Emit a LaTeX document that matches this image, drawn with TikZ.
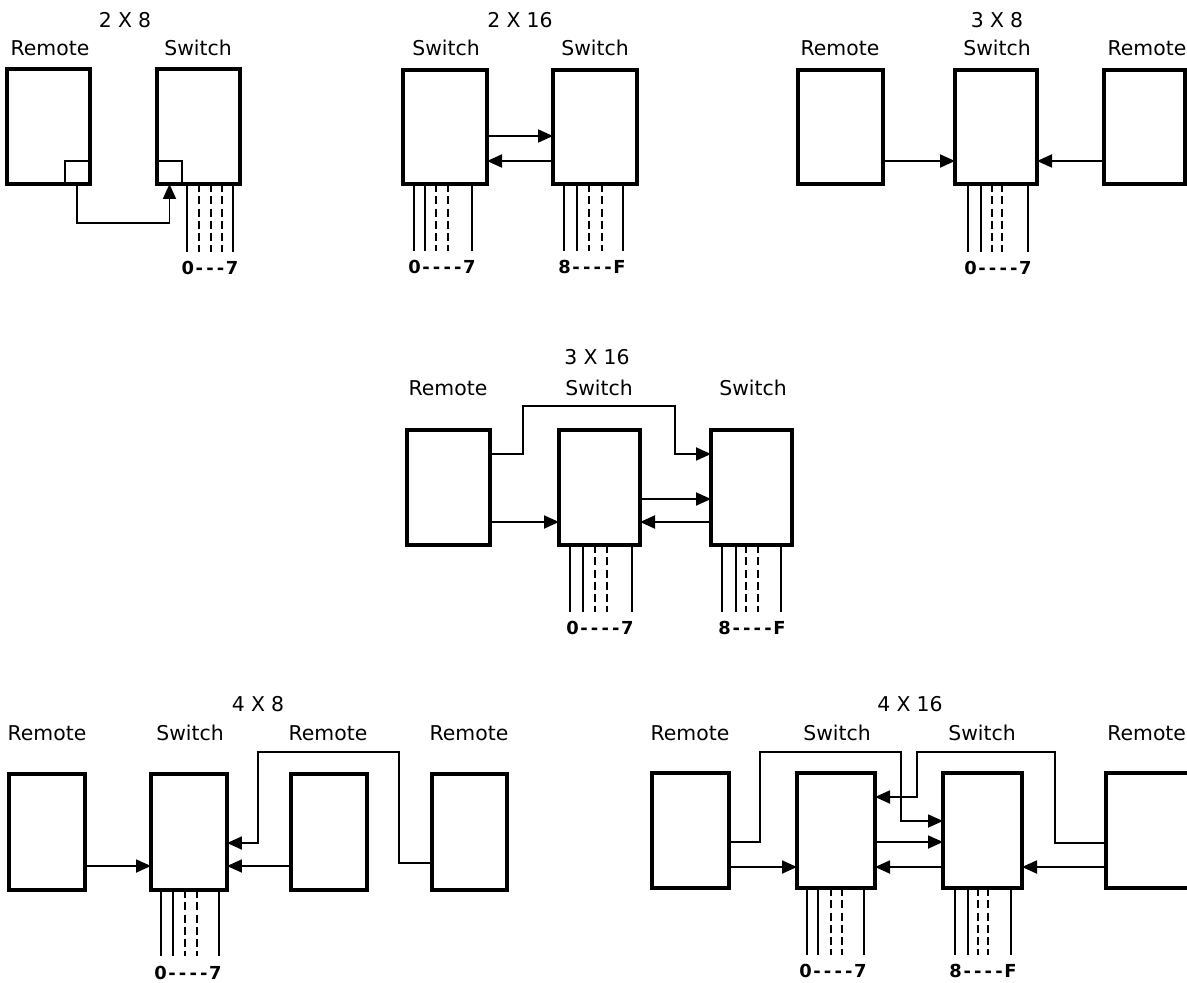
\documentclass[tikz,border=0pt]{standalone}
\usepackage{fontspec}
\setmainfont{DejaVu Sans}
\usetikzlibrary{arrows.meta}
\tikzset{
 box/.style={draw, line width=1.9pt, inner sep=0pt, outer sep=0pt},
 sqbox/.style={draw, line width=1.3pt, inner sep=0pt, outer sep=0pt},
 conn/.style={line width=1.05pt},
 arr/.style={conn, -{Triangle[length=3mm,width=2.6mm]}},
 port/.style={line width=0.95pt},
 dport/.style={port, dash pattern=on 4.5pt off 2.5pt},
 lbl/.style={font=\fontsize{11.6}{13}\selectfont, inner sep=0pt},
 num/.style={font=\fontsize{10.2}{12}\selectfont\bfseries, inner sep=0pt},
}
\newcommand{\bx}[6][box]{\node[#1, minimum width={(#5-#3)*0.02cm}, minimum height={(#6-#4)*0.02cm}] (#2) at ({(#3+#5)/2},{(#4+#6)/2}) {};}
\newcommand{\ports}[7]{%
 \draw[port] (#1.south -| #2,0) -- (#2,#7);
 \draw[port] (#1.south -| #3,0) -- (#3,#7);
 \draw[dport] (#1.south -| #4,0) -- (#4,#7);
 \draw[dport] (#1.south -| #5,0) -- (#5,#7);
 \draw[port] (#1.south -| #6,0) -- (#6,#7);}
\newcommand{\dsh}{\kern0.9pt-\kern0.9pt}
\newcommand{\ttl}[2]{#1\kern3.5pt X\kern3.5pt #2}
\begin{document}
\begin{tikzpicture}[x=0.02cm,y=-0.02cm]
\useasboundingbox (0,0) rectangle (1187,983);
\fill[white] (0,0) rectangle (1187,983);
\clip (0,0) rectangle (1187,983);

% ---------- 2 X 8 ----------
\node[lbl] (t1) at (125,20) {\ttl{2}{8}};
\node[lbl] (l1a) at (50,48) {Remote};
\node[lbl] (l1b) at (198,48) {Switch};
\bx{r1}{7}{69}{90}{184}
\bx{s1}{157}{69}{240}{184}
\bx[sqbox]{q1}{65}{161}{89}{184}
\bx[sqbox]{q2}{157}{161}{182}{184}
\draw[arr] (q1.south) -- (q1.south |- 0,223) -| (q2.south);
\draw[port] (s1.south -| 187,0) -- (187,252);
\draw[dport] (s1.south -| 199,0) -- (199,252);
\draw[dport] (s1.south -| 211,0) -- (211,252);
\draw[dport] (s1.south -| 222,0) -- (222,252);
\draw[port] (s1.south -| 233,0) -- (233,252);
\node[num] (n1) at (210,268) {0\dsh\dsh\dsh7};

% ---------- 2 X 16 ----------
\node[lbl] (t2) at (520,20) {\ttl{2}{16}};
\node[lbl] (l2a) at (446,48) {Switch};
\node[lbl] (l2b) at (595,48) {Switch};
\bx{s2a}{403}{70}{487}{184}
\bx{s2b}{553}{70}{637}{184}
\draw[arr] (s2a.east |- 0,136) -- (s2b.west |- 0,136);
\draw[arr] (s2b.west |- 0,161) -- (s2a.east |- 0,161);
\ports{s2a}{414}{425}{436}{448}{472}{251}
\ports{s2b}{564}{577}{589}{602}{623}{251}
\node[num] (n2a) at (442,267) {0\dsh\dsh\dsh\dsh7};
\node[num] (n2b) at (592,267) {8\dsh\dsh\dsh\dsh F};

% ---------- 3 X 8 ----------
\node[lbl] (t3) at (997,20) {\ttl{3}{8}};
\node[lbl] (l3a) at (840,48) {Remote};
\node[lbl] (l3b) at (997,48) {Switch};
\node[lbl] (l3c) at (1147,48) {Remote};
\bx{r3a}{798}{70}{883}{184}
\bx{s3}{955}{70}{1037}{184}
\bx{r3b}{1104}{70}{1185}{184}
\draw[arr] (r3a.east |- 0,161) -- (s3.west |- 0,161);
\draw[arr] (r3b.west |- 0,161) -- (s3.east |- 0,161);
\ports{s3}{968}{981}{992}{1002}{1028}{252}
\node[num] (n3) at (998,268) {0\dsh\dsh\dsh\dsh7};

% ---------- 3 X 16 ----------
\node[lbl] (t4) at (597,357) {\ttl{3}{16}};
\node[lbl] (l4a) at (448,388) {Remote};
\node[lbl] (l4b) at (599,388) {Switch};
\node[lbl] (l4c) at (753,388) {Switch};
\bx{r4}{407}{430}{490}{545}
\bx{s4a}{559}{430}{640}{545}
\bx{s4b}{711}{430}{792}{545}
\draw[arr] (r4.east |- 0,454) -- (523,454) |- (675,406) |- (s4b.west |- 0,454);
\draw[arr] (r4.east |- 0,522) -- (s4a.west |- 0,522);
\draw[arr] (s4a.east |- 0,499) -- (s4b.west |- 0,499);
\draw[arr] (s4b.west |- 0,522) -- (s4a.east |- 0,522);
\ports{s4a}{570}{583}{595}{607}{632}{612}
\ports{s4b}{722}{736}{746}{758}{781}{612}
\node[num] (n4a) at (600,628) {0\dsh\dsh\dsh\dsh7};
\node[num] (n4b) at (752,628) {8\dsh\dsh\dsh\dsh F};

% ---------- 4 X 8 ----------
\node[lbl] (t5) at (258,704) {\ttl{4}{8}};
\node[lbl] (l5a) at (47,733) {Remote};
\node[lbl] (l5b) at (190,733) {Switch};
\node[lbl] (l5c) at (328,733) {Remote};
\node[lbl] (l5d) at (469,733) {Remote};
\bx{r5a}{9}{774}{85}{890}
\bx{s5}{151}{774}{227}{890}
\bx{r5b}{291}{774}{367}{890}
\bx{r5c}{432}{774}{507}{890}
\draw[arr] (r5a.east |- 0,866) -- (s5.west |- 0,866);
\draw[arr] (r5b.west |- 0,866) -- (s5.east |- 0,866);
\draw[arr] (r5c.west |- 0,863) -- (399,863) |- (258,752) |- (s5.east |- 0,843);
\ports{s5}{161}{173}{185}{197}{219}{956}
\node[num] (n5) at (188,973) {0\dsh\dsh\dsh\dsh7};

% ---------- 4 X 16 ----------
\node[lbl] (t6) at (910,704) {\ttl{4}{16}};
\node[lbl] (l6a) at (690,733) {Remote};
\node[lbl] (l6b) at (837,733) {Switch};
\node[lbl] (l6c) at (982,733) {Switch};
\node[lbl, anchor=west] (l6d) at (1107,733) {Remote};
\bx{r6a}{652}{773}{729}{888}
\bx{s6a}{797}{773}{875}{888}
\bx{s6b}{943}{773}{1022}{888}
\bx{r6b}{1106}{773}{1200}{888}
\draw[arr] (r6a.east |- 0,842) -- (760,842) |- (901,752) |- (s6b.west |- 0,821);
\draw[arr] (r6a.east |- 0,867) -- (s6a.west |- 0,867);
\draw[arr] (s6a.east |- 0,842) -- (s6b.west |- 0,842);
\draw[arr] (s6b.west |- 0,867) -- (s6a.east |- 0,867);
\draw[arr] (r6b.west |- 0,843) -- (1055,843) |- (917,752) |- (s6a.east |- 0,797);
\draw[arr] (r6b.west |- 0,867) -- (s6b.east |- 0,867);
\ports{s6a}{807}{818}{831}{842}{864}{955}
\ports{s6b}{955}{968}{978}{988}{1011}{955}
\node[num] (n6a) at (833,971) {0\dsh\dsh\dsh\dsh7};
\node[num] (n6b) at (983,971) {8\dsh\dsh\dsh\dsh F};
\end{tikzpicture}
\end{document}
